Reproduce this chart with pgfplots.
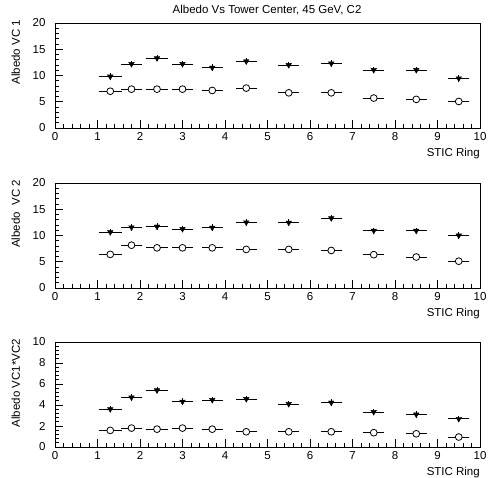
\documentclass[border=0pt]{standalone}
\usepackage{pgfplots}
\pgfplotsset{compat=1.18}
\usepackage{fontspec}
\setmainfont{Liberation Sans}

\pgfplotsset{
  stic/.style={
    scale only axis, width=425pt, height=105pt,
    anchor=south west,
    xmin=0, xmax=10, xtick={0,1,...,10}, minor x tick num=4,
    tick align=inside, xtick pos=bottom, ytick pos=left,
    major tick length=8pt, minor tick length=4pt,
    every tick/.style={black, line width=0.6pt},
    axis line style={line width=0.8pt},
    ticklabel style={font=\fontsize{11.5}{13}\selectfont},
    yticklabel style={xshift=-6pt},
    xticklabel style={yshift=-1pt},
    /pgf/number format/assume math mode=true,
    xlabel={STIC Ring},
    xlabel style={at={(axis description cs:1,0)}, anchor=north east, yshift=-20pt,
      font=\fontsize{11.5}{13}\selectfont, inner sep=0pt},
    ylabel style={at={(axis description cs:-0.082,1.03)}, anchor=south east,
      font=\fontsize{11.5}{13}\selectfont, inner sep=0pt},
    clip=false,
  },
  tri/.style={only marks, mark=triangle*, mark size=3.2pt,
    mark options={rotate=180, fill=black, draw=black, line width=0.4pt},
    error bars/.cd, x dir=both, x explicit, y dir=both, y explicit, error mark=none,
    error bar style={line width=0.8pt, black}},
  circ/.style={only marks, mark=*, mark size=3.4pt,
    mark options={fill=white, draw=black, line width=0.8pt}},
  hbar/.style={only marks, mark=none,
    error bars/.cd, x dir=both, x explicit, error mark=none,
    error bar style={line width=0.8pt, black}},
}

\begin{document}
\begin{tikzpicture}
\useasboundingbox (0pt,0pt) rectangle (488pt,478pt);

% ---------- Panel 1 ----------
\begin{axis}[stic, at={(55pt,350pt)},
  ymin=0, ymax=20, ytick={0,5,...,20}, minor y tick num=4,
  ylabel={Albedo VC 1},
  title={Albedo Vs Tower Center, 45 GeV, C2},
  title style={at={(axis description cs:0.499,1.038)}, anchor=base,
    font=\fontsize{11.5}{13}\selectfont, inner sep=0pt}]
\addplot[tri] coordinates {
 (1.3,9.8) +- (0.27,0.6) (1.8,12.2) +- (0.25,0.6) (2.4,13.3) +- (0.25,0.6)
 (3.0,12.2) +- (0.25,0.6) (3.7,11.5) +- (0.25,0.6) (4.5,12.7) +- (0.25,0.6)
 (5.5,12.0) +- (0.25,0.6) (6.5,12.3) +- (0.25,0.6) (7.5,11.05) +- (0.25,0.6)
 (8.5,11.05) +- (0.25,0.6) (9.5,9.45) +- (0.25,0.6)};
\addplot[hbar] coordinates {
 (1.3,7.0) +- (0.27,0) (1.8,7.4) +- (0.25,0) (2.4,7.4) +- (0.25,0)
 (3.0,7.4) +- (0.25,0) (3.7,7.15) +- (0.25,0) (4.5,7.6) +- (0.25,0)
 (5.5,6.7) +- (0.25,0) (6.5,6.7) +- (0.25,0) (7.5,5.7) +- (0.25,0)
 (8.5,5.45) +- (0.25,0) (9.5,5.05) +- (0.25,0)};
\addplot[circ] coordinates {
 (1.3,7.0) (1.8,7.4) (2.4,7.4) (3.0,7.4) (3.7,7.15) (4.5,7.6)
 (5.5,6.7) (6.5,6.7) (7.5,5.7) (8.5,5.45) (9.5,5.05)};
\end{axis}

% ---------- Panel 2 ----------
\begin{axis}[stic, at={(55pt,190pt)},
  ymin=0, ymax=20, ytick={0,5,...,20}, minor y tick num=4,
  ylabel={Albedo\ \ VC 2}]
\addplot[tri] coordinates {
 (1.3,10.65) +- (0.27,0.6) (1.8,11.55) +- (0.25,0.6) (2.4,11.7) +- (0.25,0.6)
 (3.0,11.25) +- (0.25,0.6) (3.7,11.5) +- (0.25,0.6) (4.5,12.5) +- (0.25,0.6)
 (5.5,12.45) +- (0.25,0.6) (6.5,13.3) +- (0.25,0.6) (7.5,10.9) +- (0.25,0.6)
 (8.5,10.9) +- (0.25,0.6) (9.5,10.0) +- (0.25,0.6)};
\addplot[hbar] coordinates {
 (1.3,6.4) +- (0.27,0) (1.8,8.15) +- (0.25,0) (2.4,7.65) +- (0.25,0)
 (3.0,7.65) +- (0.25,0) (3.7,7.65) +- (0.25,0) (4.5,7.35) +- (0.25,0)
 (5.5,7.35) +- (0.25,0) (6.5,7.15) +- (0.25,0) (7.5,6.35) +- (0.25,0)
 (8.5,5.9) +- (0.25,0) (9.5,5.1) +- (0.25,0)};
\addplot[circ] coordinates {
 (1.3,6.4) (1.8,8.15) (2.4,7.65) (3.0,7.65) (3.7,7.65) (4.5,7.35)
 (5.5,7.35) (6.5,7.15) (7.5,6.35) (8.5,5.9) (9.5,5.1)};
\end{axis}

% ---------- Panel 3 ----------
\begin{axis}[stic, at={(55pt,31pt)},
  ymin=0, ymax=10, ytick={0,2,...,10}, minor y tick num=4,
  ylabel={Albedo VC1*VC2}]
\addplot[tri] coordinates {
 (1.3,3.6) +- (0.27,0.3) (1.8,4.72) +- (0.25,0.3) (2.4,5.4) +- (0.25,0.3)
 (3.0,4.32) +- (0.25,0.3) (3.7,4.48) +- (0.25,0.3) (4.5,4.57) +- (0.25,0.3)
 (5.5,4.1) +- (0.25,0.3) (6.5,4.23) +- (0.25,0.3) (7.5,3.34) +- (0.25,0.3)
 (8.5,3.1) +- (0.25,0.3) (9.5,2.68) +- (0.25,0.3)};
\addplot[hbar] coordinates {
 (1.3,1.58) +- (0.27,0) (1.8,1.8) +- (0.25,0) (2.4,1.7) +- (0.25,0)
 (3.0,1.8) +- (0.25,0) (3.7,1.7) +- (0.25,0) (4.5,1.45) +- (0.25,0)
 (5.5,1.45) +- (0.25,0) (6.5,1.45) +- (0.25,0) (7.5,1.36) +- (0.25,0)
 (8.5,1.26) +- (0.25,0) (9.5,0.95) +- (0.25,0)};
\addplot[circ] coordinates {
 (1.3,1.58) (1.8,1.8) (2.4,1.7) (3.0,1.8) (3.7,1.7) (4.5,1.45)
 (5.5,1.45) (6.5,1.45) (7.5,1.36) (8.5,1.26) (9.5,0.95)};
\end{axis}
\end{tikzpicture}
\end{document}
